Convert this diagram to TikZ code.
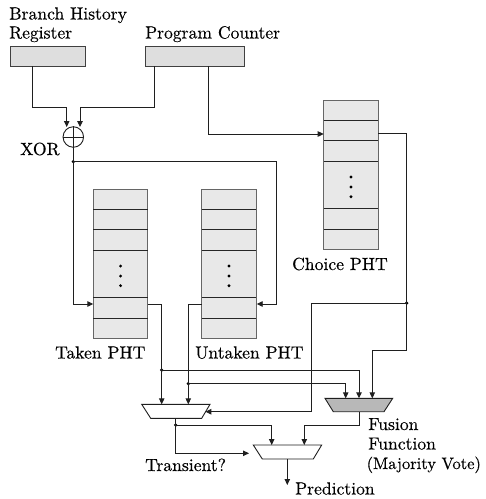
\documentclass[tikz,border=0pt]{standalone}
\usepackage{fontspec}
\setmainfont{lmroman10-regular.otf}[FakeBold=0.35]
\usetikzlibrary{arrows.meta,calc}

\begin{document}
\begin{tikzpicture}[x=1pt,y=-1pt,
  wire/.style={line width=0.9pt, draw=black!88},
  arr/.style={wire, -{Triangle[length=6pt,width=5.5pt]}},
  reg/.style={draw=black!75, fill=black!13, line width=0.9pt, inner sep=0pt,
    outer sep=0pt, anchor=north west, minimum height=20pt},
  phtbox/.style={draw=black!60, fill=black!9, line width=0.9pt, inner sep=0pt,
    outer sep=0pt, anchor=north west, minimum width=54.6pt, minimum height=149pt},
  rowline/.style={line width=0.9pt, draw=black!85},
  lbl/.style={font=\fontsize{17.6}{17.6}\selectfont, inner sep=0pt, anchor=base west},
  jdot/.style={circle, fill=black, inner sep=0pt, minimum size=3.6pt},
  muxshape/.style={line width=0.9pt, draw=black!88},
]
\useasboundingbox (0,0) rectangle (486,499);

% registers
\node[reg, minimum width=75pt] (bhr) at (10,46) {};
\node[reg, minimum width=99pt] (pc) at (145,46) {};
\node[lbl] (bhrlbl1) at (9,19.5) {Branch History};
\node[lbl] (bhrlbl2) at (9,38.5) {Register};
\node[lbl] (pclbl) at (145,38.5) {Program Counter};

% xor gate
\node[circle, draw=black!88, line width=0.9pt, minimum size=20.5pt, inner sep=0pt] (xor) at (73.3,137) {};
\draw[wire] (xor.north) -- (xor.south) (xor.west) -- (xor.east);
\node[lbl] (xorlbl) at (20,155) {XOR};

% pattern history tables
\node[phtbox] (taken) at (93.3,189) {};
\node[phtbox] (untaken) at (201.7,189) {};
\node[phtbox] (choice) at (323.7,100) {};
\foreach \t in {taken,untaken,choice} {
  \foreach \d in {20,40.5,61,108.5,129}
    \draw[rowline] ($(\t.north west)+(0,\d)$) -- ($(\t.north east)+(0,\d)$);
  \foreach \d in {77,87,96.7}
    \fill ($(\t.north)+(0,\d)$) circle (1.6pt);
}
\node[lbl] (takenlbl) at (55,358.5) {Taken PHT};
\node[lbl] (untakenlbl) at (195,358.5) {Untaken PHT};
\node[lbl] (choicelbl) at (292,270) {Choice PHT};

% ports
\coordinate (xin1) at (66.7,127);
\coordinate (xin2) at (80,127);
\coordinate (cin) at (323.7,134);
\coordinate (cout) at (378.3,133);
\coordinate (tin) at (93.3,304);
\coordinate (tout) at (147.7,304);
\coordinate (uin) at (256.7,304);
\coordinate (uout) at (201.7,304);
\coordinate (m1a) at (161.7,404.3);
\coordinate (m1b) at (188.3,404.3);
\coordinate (m1sel) at (205.4,411.7);
\coordinate (m1out) at (175.7,418.3);
\coordinate (fa) at (345.7,398.3);
\coordinate (fb) at (359,398.3);
\coordinate (fc) at (372.3,398.3);
\coordinate (fout) at (359,411.7);
\coordinate (m2a) at (271.7,445);
\coordinate (m2b) at (304.3,445);
\coordinate (m2sel) at (249,453.3);
\coordinate (m2out) at (287.3,459);
\coordinate (pred) at (287.3,485);

% junctions
\node[jdot] (j1) at (73.3,161.7) {};
\node[jdot] (j2) at (161.7,370) {};
\node[jdot] (j3) at (188.3,383.7) {};
\node[jdot] (j4) at (406.7,303) {};
\node[jdot] (j5) at (175.7,425) {};

% selector / fusion blocks
\draw[muxshape, fill=white] (141.7,404.3) -- (210,404.3) -- (201.7,418.3) -- (150.7,418.3) -- cycle;
\draw[muxshape, fill=black!28] (325,398.3) -- (392.7,398.3) -- (384,411.7) -- (333.3,411.7) -- cycle;
\draw[muxshape, fill=white] (253.3,445) -- (321.7,445) -- (313.3,459) -- (262.3,459) -- cycle;

% index wiring
\draw[arr] ([xshift=-15.2pt]bhr.south) -- ++(0,41.3) -| (xin1);
\draw[arr] ([xshift=-40.5pt]pc.south) -- ++(0,41.3) -| (xin2);
\draw[arr] ([xshift=13.8pt]pc.south) |- (cin);
\draw[wire] (xor.south) -- (j1.center);
\draw[arr] (j1.center) |- (tin);
\draw[arr] (j1.center) -- (276.7,161.7) |- (uin);

% table outputs
\draw[arr] (tout) -| (m1a);
\draw[arr] (uout) -| (m1b);
\draw[arr] (j2.center) -| (fb);
\draw[arr] (j3.center) -| (fa);
\draw[arr] (cout) -| (j4.center) -- (406.7,350) -| (fc);
\draw[arr] (j4.center) -| (311,411.7) -- (m1sel);

% final stage
\draw[wire] (m1out) -- (j5.center);
\draw[arr] (j5.center) -| (m2a);
\draw[arr] (j5.center) |- (m2sel);
\draw[arr] (fout) -- (359,425.7) -| (m2b);
\draw[arr] (m2out) -- (pred);

\node[lbl] (fus1) at (368,430) {Fusion};
\node[lbl] (fus2) at (368,449.5) {Function};
\node[lbl, font=\fontsize{16.5}{16.5}\selectfont] (fus3) at (366.5,469) {(Majority Vote)};
\node[lbl] (translbl) at (145,471) {Transient?};
\node[lbl] (predlbl) at (295,494.5) {Prediction};
\end{tikzpicture}
\end{document}
